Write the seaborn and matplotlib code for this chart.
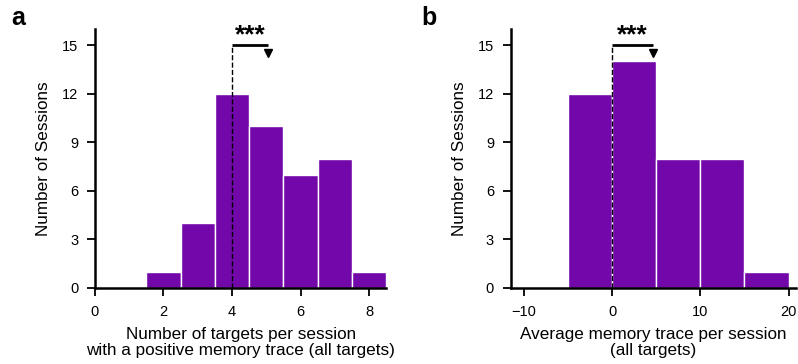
import matplotlib
matplotlib.use("Agg")
import matplotlib.pyplot as plt
import seaborn as sns
import numpy as np

# panel a: number of targets with a positive memory trace
a_centers = [2, 3, 4, 5, 6, 7, 8]
a_counts = [1, 4, 12, 10, 7, 8, 1]
a_edges = [1.5, 2.5, 3.5, 4.5, 5.5, 6.5, 7.5, 8.5]
a_ref = 4
a_mean = 5.06

# panel b: average memory trace
b_centers = [-2.5, 2.5, 7.5, 12.5, 17.5]
b_counts = [12, 14, 8, 8, 1]
b_edges = [-5, 0, 5, 10, 15, 20]
b_ref = 0
b_mean = 4.6

purple = "#7208a9"

sns.set_theme(style="ticks")
plt.rcParams["font.family"] = ["Liberation Sans", "DejaVu Sans"]
plt.rcParams["text.color"] = "black"
plt.rcParams["axes.labelcolor"] = "black"

fig = plt.figure(figsize=(7.98, 3.64), dpi=100)
ax1 = fig.add_axes([0.119, 0.209, 0.365, 0.711])
ax2 = fig.add_axes([0.640, 0.209, 0.357, 0.711])


def panel(ax, centers, counts, edges, ref, mean, xlim, xticks, xlabel):
    sns.histplot(x=centers, weights=counts, bins=edges, ax=ax, color=purple,
                 alpha=1, edgecolor="white", linewidth=1)
    ax.set_xlim(*xlim)
    ax.set_ylim(0, 16)
    ax.set_xticks(xticks)
    ax.set_yticks([0, 3, 6, 9, 12, 15])
    ax.set_xlabel(xlabel, fontsize=12.3, labelpad=6, linespacing=1.05)
    ax.set_ylabel("Number of Sessions", fontsize=12.3, labelpad=8)
    ax.tick_params(labelsize=10.5, length=6, width=1.3, colors="black", pad=6)
    for s in ["top", "right"]:
        ax.spines[s].set_visible(False)
    for s in ["left", "bottom"]:
        ax.spines[s].set_linewidth(1.8)
        ax.spines[s].set_color("black")
    ax.plot([ref, ref], [0, 15], color="black", linestyle="--", linewidth=1)
    ax.plot([ref, mean], [15, 15], color="black", linewidth=2, solid_capstyle="butt")
    ax.plot([mean], [14.5], marker="v", color="black", markersize=6)
    ax.text((ref + mean) / 2, 14.9, "***", ha="center", va="bottom",
            fontsize=19, fontweight="bold")


panel(ax1, a_centers, a_counts, a_edges, a_ref, a_mean, (0, 8.5), [0, 2, 4, 6, 8],
      "Number of targets per session\nwith a positive memory trace (all targets)")
panel(ax2, b_centers, b_counts, b_edges, b_ref, b_mean, (-11.5, 20.8), [-10, 0, 10, 20],
      "Average memory trace per session\n(all targets)")

fig.text(0.014, 0.931, "a", fontsize=18, fontweight="bold", ha="left", va="baseline")
fig.text(0.528, 0.931, "b", fontsize=18, fontweight="bold", ha="left", va="baseline")

fig.savefig("out.png", dpi=100)
